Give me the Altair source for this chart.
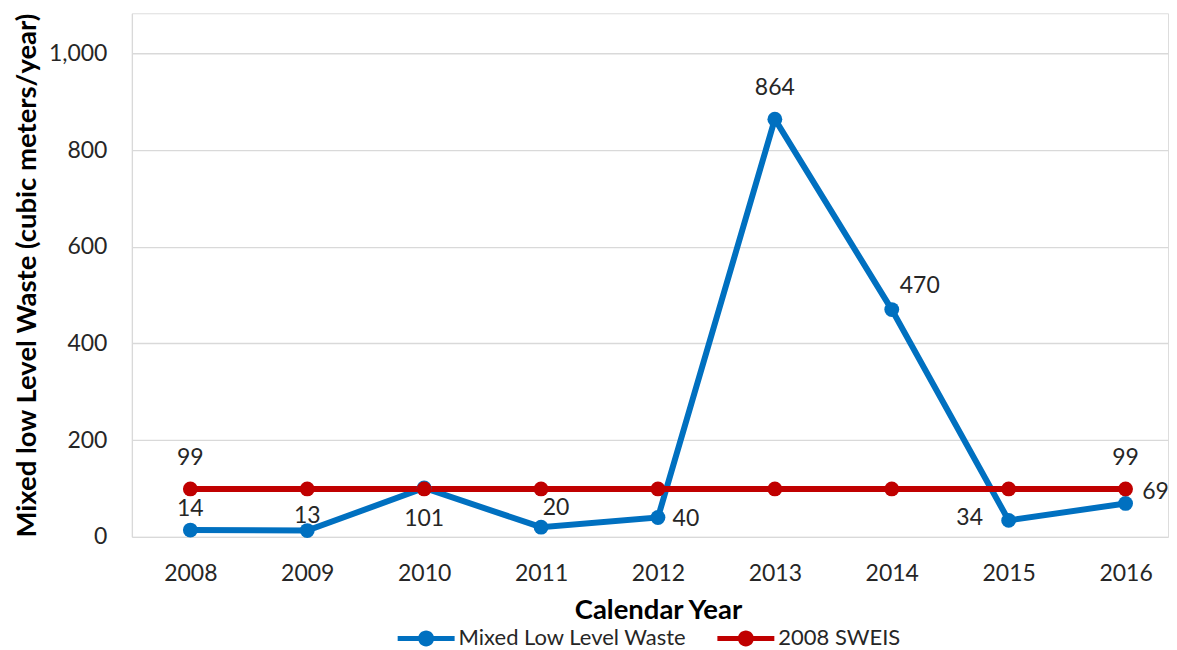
import altair as alt
import pandas as pd

years = [2008, 2009, 2010, 2011, 2012, 2013, 2014, 2015, 2016]
mllw = [14, 13, 101, 20, 40, 864, 470, 34, 69]
sweis = [99, 99, 99, 99, 99, 99, 99, 99, 99]
series_names = ["Mixed Low Level Waste", "2008 SWEIS"]
series_colors = ["#0070C0", "#C00000"]
y_ticks = [0, 200, 400, 600, 800, 1000]

rows = []
for y, v in zip(years, mllw):
    rows.append({"year": y, "value": v, "series": series_names[0]})
for y, v in zip(years, sweis):
    rows.append({"year": y, "value": v, "series": series_names[1]})
df = pd.DataFrame(rows)

FONT = "Lato"
LBL = 23
TTL = 27.5

x = alt.X("year:Q",
          scale=alt.Scale(domain=[2007.5, 2016.363], nice=False, zero=False),
          axis=alt.Axis(values=years, format="d", ticks=False, grid=False, domain=False,
                        labelFontSize=LBL, labelPadding=26, labelColor="#262626",
                        title="Calendar Year", titleFontSize=TTL, titleFontWeight="bold",
                        titleColor="#000000", titlePadding=11, titleX=526.5))
y = alt.Y("value:Q",
          scale=alt.Scale(domain=[0, 1083], nice=False),
          axis=alt.Axis(values=y_ticks, format=",d", ticks=False, grid=True,
                        gridColor="#D9D9D9", gridWidth=1.3,
                        domainColor="#D9D9D9", domainWidth=1.3,
                        labelFontSize=LBL, labelPadding=25, labelColor="#262626",
                        title="Mixed low Level Waste (cubic meters/year)",
                        titleFontSize=TTL, titleFontWeight="bold", titleColor="#000000",
                        titlePadding=7))

legend_path = ("M-1,-0.09 L1,-0.09 L1,0.09 L-1,0.09 Z "
               "M0.28,0 A0.28,0.28 0 1,1 -0.28,0 A0.28,0.28 0 1,1 0.28,0 Z")

color_scale = alt.Scale(domain=series_names, range=series_colors)
legend = alt.Legend(title=None, orient="none", direction="horizontal",
                    legendX=266, legendY=597,
                    symbolType=legend_path, symbolSize=3249,
                    symbolStrokeWidth=0, symbolOpacity=1,
                    labelFontSize=22, labelColor="#262626", labelLimit=0,
                    labelOffset=4, columnPadding=30)
color = alt.Color("series:N", scale=color_scale, sort=series_names, legend=legend)

base = alt.Chart(df)

line = base.mark_line(strokeWidth=6).encode(
    x=x, y=y, color=color, order=alt.Order("year:Q"),
)

points = base.mark_circle(size=220, opacity=1).encode(
    x=x, y=y, color=color,
)

# label placements (dx, dy) per series / year
placements = {
    (series_names[0], 2008): (0, -21),
    (series_names[0], 2009): (0, -15),
    (series_names[0], 2010): (0, 31),
    (series_names[0], 2011): (15, -19),
    (series_names[0], 2012): (28, 2),
    (series_names[0], 2013): (0, -31),
    (series_names[0], 2014): (28, -24),
    (series_names[0], 2015): (-39, -2),
    (series_names[0], 2016): (30, -11),
    (series_names[1], 2008): (0, -31),
    (series_names[1], 2016): (0, -31),
}

labels = []
for (s, yr), (dx, dy) in placements.items():
    labels.append(
        base.transform_filter(
            (alt.datum.series == s) & (alt.datum.year == yr)
        ).mark_text(font=FONT, fontSize=LBL, color="#262626", dx=dx, dy=dy,
                    align="center", baseline="middle").encode(
            x=x, y=y, text=alt.Text("value:Q", format="d"))
    )

chart = alt.layer(line, points, *labels).properties(
    width=1037, height=524,
    padding={"left": 5, "top": 4, "right": 0, "bottom": 0},
).configure_view(stroke=None).configure(font=FONT)

chart.save("out.html", embed_options={"renderer": "svg", "actions": False})
